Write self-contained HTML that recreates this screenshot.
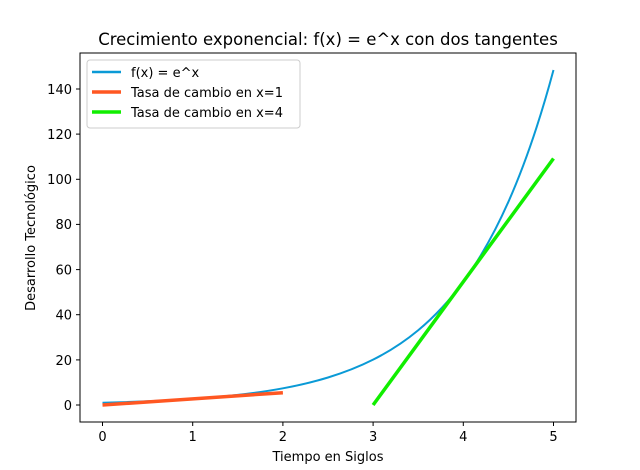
<!DOCTYPE html>
<html><head><meta charset="utf-8"><style>body{margin:0;background:#fff}svg{display:block}text{font-family:"DejaVu Sans","Liberation Sans",sans-serif;fill:#000}</style></head>
<body>
<svg width="640" height="470" viewBox="0 0 640 470" xmlns="http://www.w3.org/2000/svg">
<rect width="640" height="470" fill="#fff"/>
<text x="328" y="45" font-size="16.5" text-anchor="middle">Crecimiento exponencial: f(x) = e^x con dos tangentes</text>
<path fill="none" stroke="#0a9ad6" stroke-width="2" d="M102.5,402.74 C117.5,402.37 132.6,401.9 147.6,401.28 C162.6,400.66 177.7,399.89 192.7,398.86 C207.7,397.84 222.8,396.57 237.8,394.88 C252.8,393.2 267.9,391.1 282.9,388.32 C297.9,385.54 313,382.09 328,377.5 C343,372.92 358.1,367.22 373.1,359.66 C388.1,352.11 403.2,342.71 418.2,330.25 C433.2,317.8 448.3,302.31 463.3,281.77 C478.3,261.23 493.4,235.69 508.4,201.82 C523.4,167.96 538.5,125.84 553.5,70.02"/>
<line x1="102.5" y1="405" x2="282.9" y2="392.7" stroke="#ff5722" stroke-width="3.5"/>
<line x1="373.1" y1="405" x2="553.5" y2="158.5" stroke="#11ee00" stroke-width="3.5"/>
<rect x="80" y="53" width="496" height="369" fill="none" stroke="#000" stroke-width="1"/>
<g stroke="#000">
<line x1="102.5" y1="422" x2="102.5" y2="426"/><line x1="192.7" y1="422" x2="192.7" y2="426"/><line x1="282.9" y1="422" x2="282.9" y2="426"/><line x1="373.1" y1="422" x2="373.1" y2="426"/><line x1="463.3" y1="422" x2="463.3" y2="426"/><line x1="553.5" y1="422" x2="553.5" y2="426"/>
<line x1="76" y1="405" x2="80" y2="405"/><line x1="76" y1="359.9" x2="80" y2="359.9"/><line x1="76" y1="314.7" x2="80" y2="314.7"/><line x1="76" y1="269.6" x2="80" y2="269.6"/><line x1="76" y1="224.4" x2="80" y2="224.4"/><line x1="76" y1="179.3" x2="80" y2="179.3"/><line x1="76" y1="134.1" x2="80" y2="134.1"/><line x1="76" y1="89" x2="80" y2="89"/>
</g>
<g font-size="13" text-anchor="middle">
<text x="102.5" y="441">0</text><text x="192.7" y="441">1</text><text x="282.9" y="441">2</text><text x="373.1" y="441">3</text><text x="463.3" y="441">4</text><text x="553.5" y="441">5</text>
</g>
<g font-size="13" text-anchor="end">
<text x="72" y="410">0</text><text x="72" y="365">20</text><text x="72" y="319.5">40</text><text x="72" y="274.5">60</text><text x="72" y="229">80</text><text x="72" y="184">100</text><text x="72" y="139">120</text><text x="72" y="94">140</text>
</g>
<text x="328" y="461" font-size="13" text-anchor="middle">Tiempo en Siglos</text>
<text transform="translate(35,238) rotate(-90)" font-size="13" text-anchor="middle">Desarrollo Tecnológico</text>
<rect x="87" y="60" width="213" height="68" rx="3" fill="#fff" fill-opacity="0.8" stroke="#ccc"/>
<line x1="92" y1="72" x2="121" y2="72" stroke="#0a9ad6" stroke-width="2.5"/>
<line x1="92" y1="92" x2="121" y2="92" stroke="#ff5722" stroke-width="3.5"/>
<line x1="92" y1="112" x2="121" y2="112" stroke="#11ee00" stroke-width="3.5"/>
<g font-size="13"><text x="131" y="77">f(x) = e^x</text><text x="131" y="97">Tasa de cambio en x=1</text><text x="131" y="117">Tasa de cambio en x=4</text></g>
</svg>
</body></html>
